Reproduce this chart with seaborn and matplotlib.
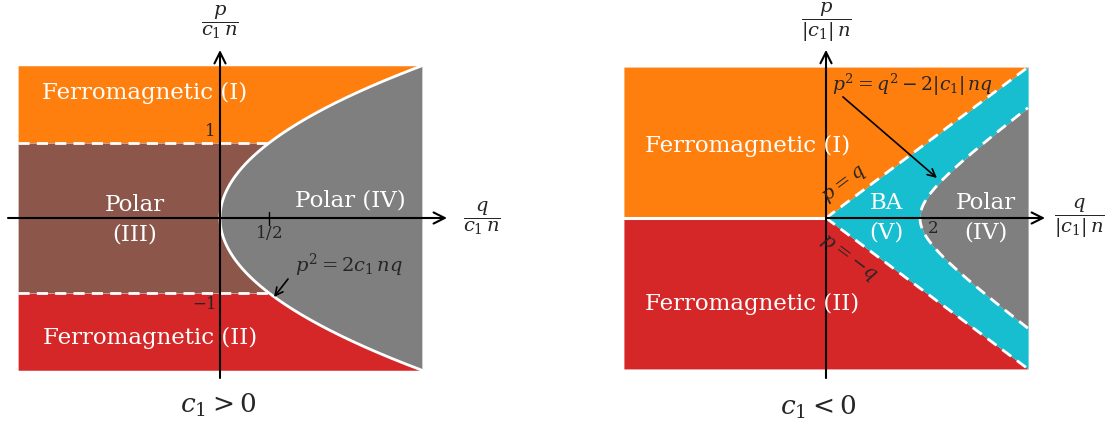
import numpy as np
import matplotlib
matplotlib.use("Agg")
import matplotlib.pyplot as plt
import seaborn as sns

# ---- chart values ----
# left panel, c1 > 0  (boundary p^2 = 2 c1 n q)
left_q_lim = 2.06
left_p_lim = 2.03
left_ferro_p = 1.0            # dashed lines at p = +-1
left_tick_q = 0.5
left_tick_labels = ["1", "$-1$", "$1/2$"]
left_region_names = ["Ferromagnetic (I)", "Polar\n(III)", "Polar (IV)", "Ferromagnetic (II)"]

# right panel, c1 < 0  (boundary p^2 = q^2 - 2|c1| n q, lines p = +-q)
right_q_lim = 4.3
right_p_lim = 4.3
right_tick_q = 2.0
right_region_names = ["Ferromagnetic (I)", "BA\n(V)", "Polar\n(IV)", "Ferromagnetic (II)"]

colors = {"orange": "#ff7f0e", "red": "#d62728", "brown": "#8c564b",
          "gray": "#7f7f7f", "cyan": "#17becf"}

sns.set_style("white")
plt.rcParams["font.family"] = ["DejaVu Serif"]
plt.rcParams["mathtext.fontset"] = "dejavuserif"

fig = plt.figure(figsize=(11.12, 4.26), dpi=100)

# axes placed so that the pixel scale matches the reference
sxL, syL = 98.0, 75.0
axL = fig.add_axes([0, 0, 0.5, 1])
axL.set_xlim(-220 / sxL, (556 - 220) / sxL)
axL.set_ylim(-(426 - 218) / syL, 218 / syL)
axR = fig.add_axes([0.5, 0, 0.5, 1])
axR.set_xlim(-270 / 47.0, (556 - 270) / 47.0)
axR.set_ylim(-(426 - 218) / 35.1, 218 / 35.1)
for ax in (axL, axR):
    ax.set_axis_off()

dash = (4, 2.6)
txt = dict(color="white", fontsize=16.5, ha="center", va="center")

# ---------------- left panel ----------------
ax = axL
p = np.linspace(-left_p_lim, left_p_lim, 801)
q_par = p ** 2 / 2
qa = -left_q_lim
top = p >= left_ferro_p
mid = np.abs(p) <= left_ferro_p
bot = p <= -left_ferro_p
ax.fill_betweenx(p[top], qa, np.minimum(q_par[top], left_q_lim), color=colors["orange"], lw=0)
ax.fill_betweenx(p[mid], qa, q_par[mid], color=colors["brown"], lw=0)
ax.fill_betweenx(p[bot], qa, np.minimum(q_par[bot], left_q_lim), color=colors["red"], lw=0)
ax.fill_betweenx(p, np.minimum(q_par, left_q_lim), left_q_lim, color=colors["gray"], lw=0)

# boundaries
sns.lineplot(x=q_par, y=p, sort=False, estimator=None, color="white", lw=2, ax=ax)
q_cross = left_ferro_p ** 2 / 2
for s in (1, -1):
    ax.plot([qa, q_cross], [s * left_ferro_p] * 2, color="white", lw=2, dashes=dash)

# axes arrows
arr = dict(arrowstyle="->", lw=1.5, color="black", mutation_scale=20, shrinkA=0, shrinkB=0)
ax.annotate("", xy=(227 / sxL, 0), xytext=(-212 / sxL, 0), arrowprops=arr)
ax.annotate("", xy=(0, 168 / syL), xytext=(0, -160 / syL), arrowprops=arr)
ax.plot([left_tick_q] * 2, [-0.09, 0.08], color="black", lw=1)

ax.text(-0.1, 1.15, left_tick_labels[0], fontsize=12, ha="center", va="center")
ax.text(-0.16, -1.15, left_tick_labels[1], fontsize=12, ha="center", va="center")
ax.text(left_tick_q, -0.2, left_tick_labels[2], fontsize=12, ha="center", va="center")

ax.text(0, 196 / syL, r"$\dfrac{p}{c_1\,n}$", fontsize=14, ha="center", va="center")
ax.text(262 / sxL, 0, r"$\dfrac{q}{c_1\,n}$", fontsize=14, ha="center", va="center")
ax.text(-0.02, -187 / syL, r"$c_1>0$", fontsize=19, ha="center", va="center")

ax.text(-75 / sxL, 125 / syL, left_region_names[0], **txt)
ax.text(-85 / sxL, -2 / syL, left_region_names[1], linespacing=1.45, **txt)
ax.text(130 / sxL, 17 / syL, left_region_names[2], **txt)
ax.text(-70 / sxL, -120 / syL, left_region_names[3], **txt)

ax.text(75 / sxL, -47 / syL, r"$p^2=2c_1\,nq$", fontsize=14, ha="left", va="center")
ax.annotate("", xy=(54 / sxL, -79 / syL), xytext=(68 / sxL, -61 / syL),
            arrowprops=dict(arrowstyle="->", lw=1.2, color="black", mutation_scale=14,
                            shrinkA=0, shrinkB=0))

# ---------------- right panel ----------------
ax = axR
qm, pm = right_q_lim, right_p_lim
p = np.linspace(-pm, pm, 801)
q_hyp = 1 + np.sqrt(1 + p ** 2)
up = p >= 0
dn = p <= 0
ax.fill_betweenx(p[up], -qm, p[up], color=colors["orange"], lw=0)
ax.fill_betweenx(p[dn], -qm, -p[dn], color=colors["red"], lw=0)
ax.fill_betweenx(p, np.abs(p), np.minimum(q_hyp, qm), color=colors["cyan"], lw=0)
ax.fill_betweenx(p, np.minimum(q_hyp, qm), qm, color=colors["gray"], lw=0)

inside = q_hyp <= qm
sns.lineplot(x=q_hyp[inside], y=p[inside], sort=False, estimator=None,
             color="white", lw=2, ax=ax).lines[-1].set_dashes(dash)
ax.plot([0, qm], [0, pm], color="white", lw=2, dashes=dash)
ax.plot([0, qm], [0, -pm], color="white", lw=2, dashes=dash)
ax.plot([-qm, 0], [0, 0], color="white", lw=2.2)

ax.annotate("", xy=(4.66, 0), xytext=(0, 0), arrowprops=arr)
ax.annotate("", xy=(0, 4.79), xytext=(0, -4.56), arrowprops=arr)
ax.text(2.28, -0.3, "2", fontsize=12, ha="center", va="center")

ax.text(0, 5.58, r"$\dfrac{p}{|c_1|\,n}$", fontsize=14, ha="center", va="center")
ax.text(5.4, 0, r"$\dfrac{q}{|c_1|\,n}$", fontsize=14, ha="center", va="center")
ax.text(-0.17, -5.4, r"$c_1<0$", fontsize=19, ha="center", va="center")

ax.text(-1.66, 2.05, right_region_names[0], **txt)
ax.text(1.28, 0.0, right_region_names[1], linespacing=1.45, **txt)
ax.text(3.4, 0.0, right_region_names[2], linespacing=1.45, **txt)
ax.text(-1.58, -2.45, right_region_names[3], **txt)

ang = np.degrees(np.arctan(35.1 / 47.0))
ax.text(0.4, 0.95, r"$p=q$", fontsize=14, rotation=ang, ha="center", va="center")
ax.text(0.47, -1.15, r"$p=-q$", fontsize=14, rotation=-ang, ha="center", va="center")
ax.text(0.13, 3.8, r"$p^2=q^2-2|c_1|\,nq$", fontsize=13.5, ha="left", va="center")
ax.annotate("", xy=(2.36, 1.14), xytext=(0.36, 3.45),
            arrowprops=dict(arrowstyle="->", lw=1.2, color="black", mutation_scale=14,
                            shrinkA=0, shrinkB=0))

fig.savefig("out.png", dpi=100)
